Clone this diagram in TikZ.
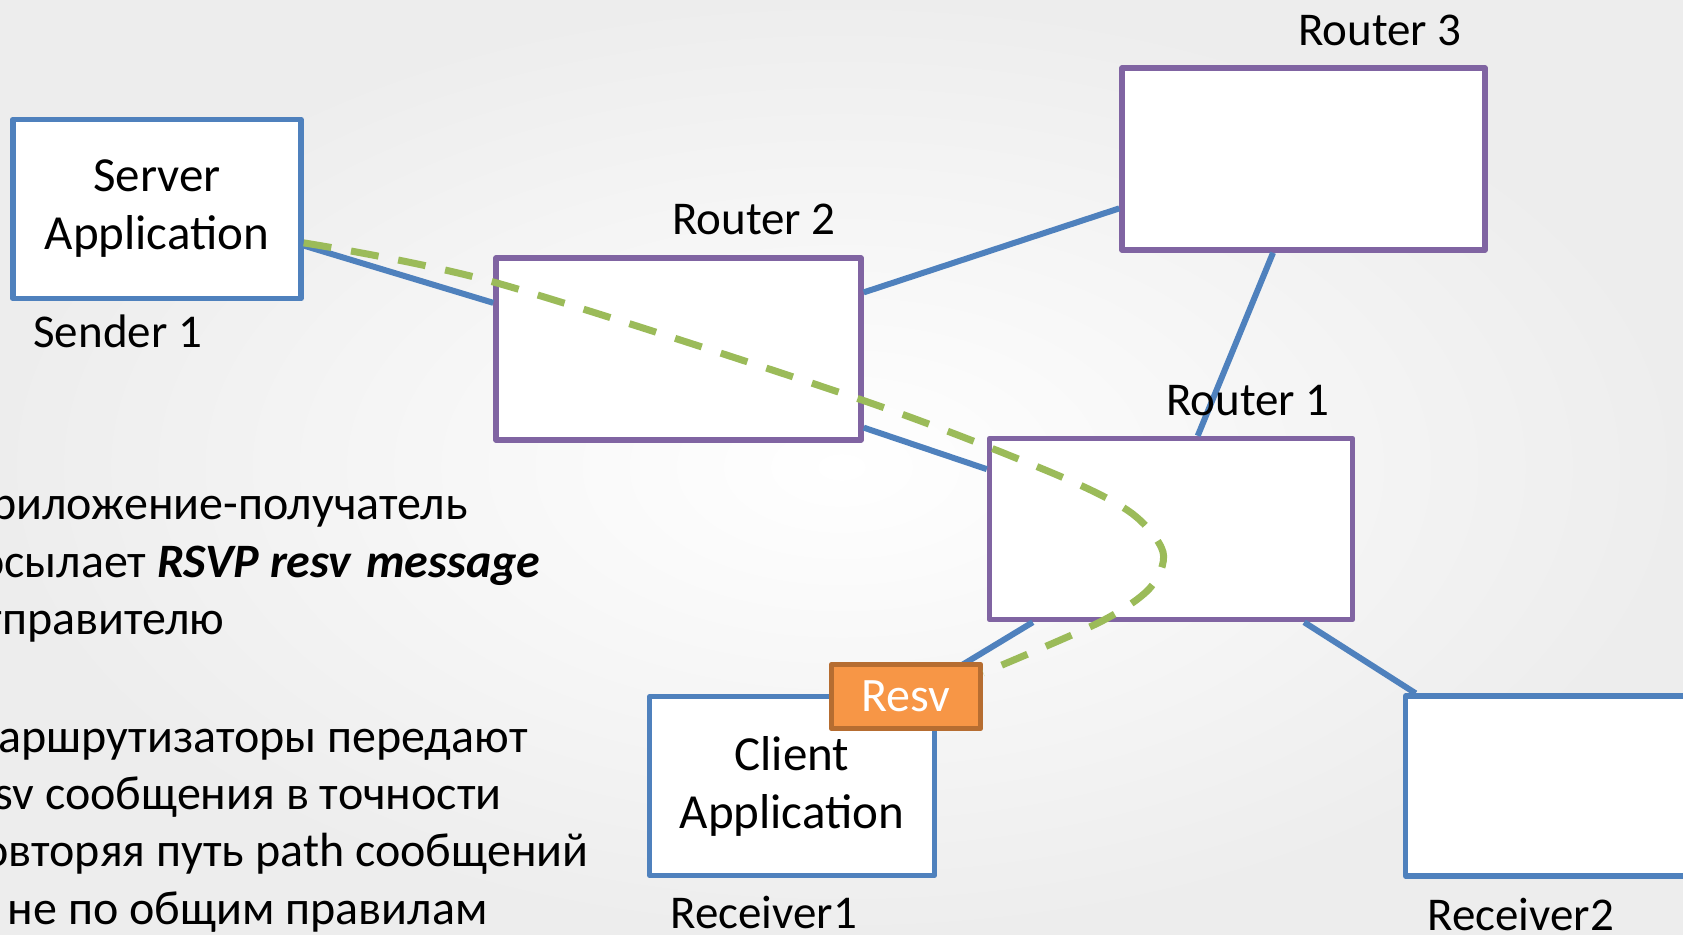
\documentclass[tikz,border=0pt]{standalone}
\usepackage{fontspec}
\setmainfont{Carlito}
\definecolor{linkblue}{HTML}{4F81BD}
\definecolor{routerpurple}{HTML}{8064A2}
\definecolor{pathgreen}{HTML}{9BBB59}
\definecolor{resvorange}{HTML}{F79646}
\definecolor{resvbrown}{HTML}{B66D31}
\tikzset{
  hostbox/.style={draw=linkblue, line width=2.7pt, fill=white, line join=round, align=center, inner sep=0pt, font=\fontsize{24.5}{29}\selectfont},
  routerbox/.style={draw=routerpurple, line width=2.7pt, fill=white, line join=round, inner sep=0pt},
  link/.style={draw=linkblue, line width=3pt},
  lbl/.style={inner sep=0pt, font=\fontsize{23.5}{28}\selectfont},
  note/.style={inner sep=0pt, anchor=base east, font=\fontsize{24}{28}\selectfont},
}
\begin{document}
\begin{tikzpicture}[x=0.5pt,y=-0.5pt]
        % background
        \useasboundingbox (0,0) rectangle (1683,934);
        \clip (0,0) rectangle (1683,934);
        \shade[inner color=white, outer color=black!7] (0,0) rectangle (1683,934);
        % hosts and routers
        \node[hostbox, minimum width=144pt, minimum height=89.75pt] (server) at (157,209) {Server\\Application};
        \node[routerbox, minimum width=182.5pt, minimum height=91pt] (router2) at (678.5,349) {};
        \node[routerbox, minimum width=181.5pt, minimum height=91pt] (router3) at (1303.5,159) {};
        \node[routerbox, minimum width=181.5pt, minimum height=90.5pt] (router1) at (1171,529) {};
        \node[hostbox, minimum width=142.5pt, minimum height=89.25pt] (client) at (792,786) {Client\\Application};
        \node[hostbox, minimum width=142.5pt, minimum height=90pt] (receiver2) at (1548,786) {};
        % links
        \draw[link] (server.-14) -- (router2.166);
        \draw[link] (router2.17) -- (router3.195);
        \draw[link] (router2.-23) -- (router1.162);
        \draw[link] (router3.-108) -- (router1.74);
        \draw[link] (router1.-146) -- (client.37);
        \draw[link] (router1.-35) -- (receiver2.145);
        % resv message
        \node[fill=resvorange, draw=resvbrown, line width=2.7pt, line join=round, text=white, inner sep=0pt,
              minimum width=74.5pt, minimum height=32pt, font=\fontsize{24}{28}\selectfont] (resv) at (906,696.5) {Resv};
        \draw[pathgreen, line width=3.5pt, dash pattern=on 14pt off 10pt]
          plot[smooth] coordinates {(server.-13) (497,283) (859,399) (1050,472) (1130,512) (1163,552) (1150,588) (1100,622) (resv.17)};
        % labels
        \node[lbl, anchor=base] (r3label) at (1380,45) {Router 3};
        \node[lbl, anchor=base] (r2label) at (754,234) {Router 2};
        \node[lbl, anchor=base] (r1label) at (1248,415) {Router 1};
        \node[lbl, anchor=base west] (s1label) at (33,347) {Sender 1};
        \node[lbl, anchor=base west] (rc1label) at (670,928) {Receiver1};
        \node[lbl, anchor=base west] (rc2label) at (1427,930) {Receiver2};
        % text on the left
        \node[note] (n1) at (468,519) {Приложение-получатель};
        \node[note] (n2) at (541,577) {посылает \textbf{\textit{RSVP resv\hspace{2pt} message}}};
        \node[note] (n3) at (225,634) {отправителю};
        \node[note] (n4) at (528,752) {Маршрутизаторы передают};
        \node[note] (n5) at (502,809) {resv сообщения в точности};
        \node[note] (n6) at (589,866) {повторяя путь path сообщений};
        \node[note] (n7) at (488,924) {а не по общим правилам};
\end{tikzpicture}
\end{document}
